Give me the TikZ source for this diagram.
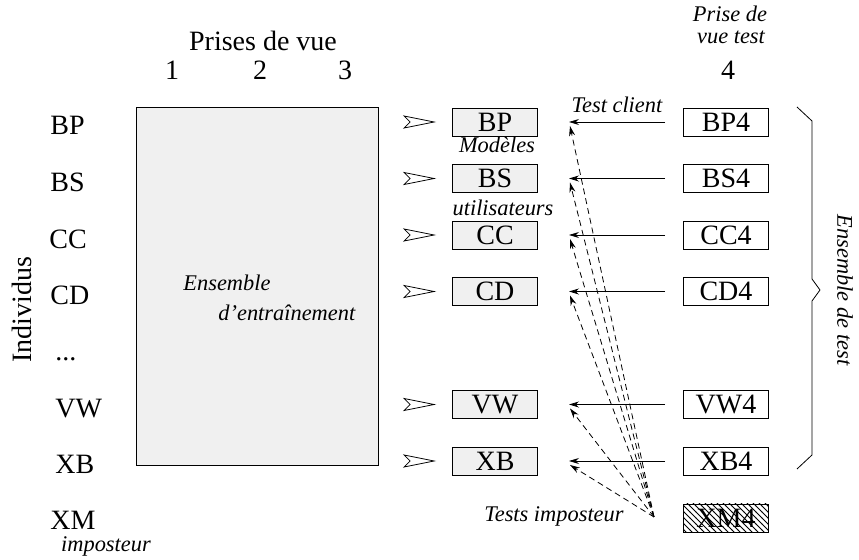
\documentclass[tikz,border=0pt]{standalone}
\usepackage{fontspec}
\setmainfont{Liberation Serif}
\usetikzlibrary{arrows.meta,patterns}

\definecolor{boxgray}{RGB}{240,240,240}

\begin{document}
\begin{tikzpicture}[x=0.5pt,y=-0.5pt]
\useasboundingbox (0,0) rectangle (859,560);

% training set
\node[draw,fill=boxgray,minimum width=121pt,minimum height=179pt] (train) at (257,286) {};

\begin{scope}[every node/.style={font=\fontsize{14}{16}\selectfont,inner sep=0pt,anchor=base west}]
    \node (lBP) at (50,135) {BP};
    \node (lBS) at (50,192) {BS};
    \node (lCC) at (49,249) {CC};
    \node (lCD) at (50,305) {CD};
    \node (lDots) at (55,361) {...};
    \node (lVW) at (55,418) {VW};
    \node (lXB) at (55,474) {XB};
    \node (lXM) at (50,530) {XM};
\end{scope}

\begin{scope}[every node/.style={font=\fontsize{14}{16}\selectfont,inner sep=0pt,anchor=base}]
    \node (views) at (263,51) {Prises de vue};
    \node (v1) at (172,80) {1};
    \node (v2) at (260,80) {2};
    \node (v3) at (345,80) {3};
    \node (v4) at (728,80) {4};
    \node[rotate=90,anchor=center] (indiv) at (22,310) {Individus};
\end{scope}

\begin{scope}[every node/.style={font=\fontsize{11.2}{13}\selectfont\itshape,inner sep=0pt,anchor=base}]
    \node (testA) at (730,22) {Prise de};
    \node (testB) at (731,44) {vue test};
    \node (imp) at (106,552) {imposteur};
    \node[anchor=base west] (ens) at (183,291) {Ensemble};
    \node[anchor=base west] (entr) at (218,321) {d'entraînement};
    \node (modA) at (497,153) {Modèles};
    \node (modB) at (503,216) {utilisateurs};
    \node (client) at (617,113) {Test client};
    \node (tests) at (554,522) {Tests imposteur};
    \node[rotate=-90,anchor=center] (ensTest) at (845,290) {Ensemble de test};
\end{scope}

% user models
\begin{scope}[every node/.style={draw,fill=boxgray,minimum width=42.5pt,minimum height=14pt,
              inner sep=0pt,font=\fontsize{14}{16}\selectfont}]
    \node (mBP) at (495,122) {BP};
    \node (mBS) at (495,178.5) {BS};
    \node (mCC) at (495,235) {CC};
    \node (mCD) at (495,291.5) {CD};
    \node (mVW) at (495,404.5) {VW};
    \node (mXB) at (495,461) {XB};
\end{scope}

% test shots
\begin{scope}[every node/.style={draw,fill=white,minimum width=42.5pt,minimum height=14pt,
              inner sep=0pt,font=\fontsize{14}{16}\selectfont}]
    \node (tBP) at (726,122) {BP4};
    \node (tBS) at (726,178.5) {BS4};
    \node (tCC) at (726,235) {CC4};
    \node (tCD) at (726,291.5) {CD4};
    \node (tVW) at (726,404.5) {VW4};
    \node (tXB) at (726,461) {XB4};
    \node[fill=none,pattern=north west lines] (tXM) at (726,518) {XM4};
\end{scope}

\coordinate (cBP) at (569,122);
\coordinate (cBS) at (569,178.5);
\coordinate (cCC) at (569,235);
\coordinate (cCD) at (569,291.5);
\coordinate (cVW) at (569,404.5);
\coordinate (cXB) at (569,461);

\coordinate (dBP) at (570,126);
\coordinate (dBS) at (570,182.5);
\coordinate (dCC) at (570,239);
\coordinate (dCD) at (570,295.5);
\coordinate (dVW) at (570,408.5);
\coordinate (dXB) at (570,465);

\coordinate (src) at (654,517);

% open heads in front of the models
\foreach \n in {BP,BS,CC,CD,VW,XB}
    \draw[shift={(m\n.west)}] (-48,-6) -- (-18,0) -- (-48,6) -- (-42,0) -- cycle;

\begin{scope}[every edge/.style={draw=black,-{Stealth[length=5pt,width=3pt]}}]
    \path (tBP) edge[shorten <=9pt] (cBP);
    \path (tBS) edge[shorten <=9pt] (cBS);
    \path (tCC) edge[shorten <=9pt] (cCC);
    \path (tCD) edge[shorten <=9pt] (cCD);
    \path (tVW) edge[shorten <=9pt] (cVW);
    \path (tXB) edge[shorten <=9pt] (cXB);
\end{scope}

\begin{scope}[every edge/.style={draw=black,dash pattern=on 3pt off 2pt,-{Stealth[length=5pt,width=3pt]}}]
    \path (src) edge (dBP);
    \path (src) edge (dBS);
    \path (src) edge (dCC);
    \path (src) edge (dCD);
    \path (src) edge (dVW);
    \path (src) edge (dXB);
\end{scope}

% brace
\draw (797,107) -- (812,121) -- (812,279) -- (820,290) -- (812,301) -- (812,455) -- (797,469);
\end{tikzpicture}
\end{document}
